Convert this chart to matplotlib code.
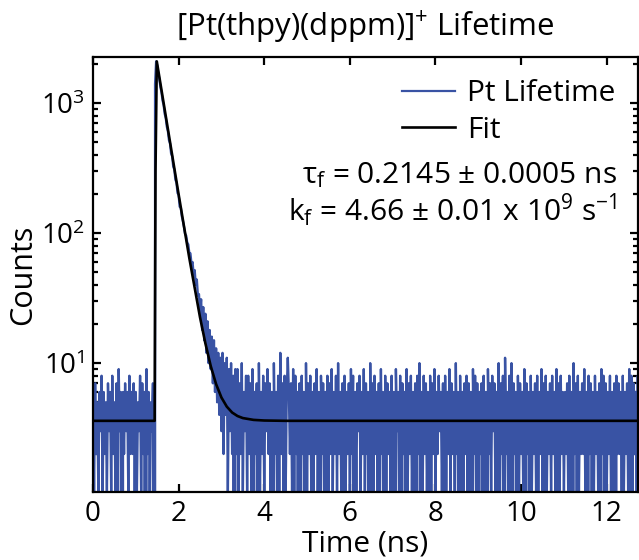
import matplotlib
matplotlib.use("Agg")
import matplotlib.pyplot as plt
import numpy as np

plt.rcParams.update({
    "font.family": ["Open Sans", "DejaVu Sans"],
    "mathtext.default": "regular",
    "font.size": 20,
    "axes.linewidth": 1.6,
})

# -----------------------------
# Data (TCSPC counts, 0.025 ns channels)
# -----------------------------
dt = 0.025
# background before the pulse, one hex digit per channel
pre_counts = ("6172516381" "6251736182" "5171936062" "7361826271"
              "6153817260" "92615370")
# rise + decay part of the trace
decay_counts = [1400, 2100, 1950, 1690, 1540, 1330, 1220, 1050, 970, 830, 770,
                660, 610, 520, 490, 410, 390, 325, 310, 258, 246,
                204, 197, 160, 158, 135, 124, 112, 99, 96, 85,
                82, 70, 70, 58, 60, 48, 52, 40, 44, 33,
                34, 24, 31, 18, 27, 15, 24, 12, 21, 10,
                18, 9, 16, 7, 15, 6, 13, 5, 12, 4,
                11, 3, 12, 2, 10, 4, 11, 1, 9, 3,
                10, 2, 8, 0, 9, 2]
# background after the decay, one hex digit per channel
tail_counts = ("9172a16381" "8271916270" "a162817392" "7160a26181"
               "c271816b62" "7191826071" "8260a17281" "6172916082"
               "7160817291" "6281a26170" "8162719280" "6173816291"
               "7260a17182" "6171926081" "7261816093" "6180726191"
               "7281617082" "a161827160" "8172916283" "6170816291"
               "7261a26081" "6172817160" "9281716270" "8160927183"
               "7161a17280" "b26181a172" "6081726191" "7260816271"
               "8162917081" "6271826190" "7182616271" "8160a27181"
               "6272916082" "7161826170" "9281716281" "6170827261"
               "8162719081" "7261826170")

# fitted curve (tau_f = 0.2145 ns)
fit_t = [0, 1.44, 1.46, 1.49, 2.0, 2.25, 2.5, 2.625, 2.75, 2.875, 3.0,
         3.125, 3.25, 3.375, 3.5, 3.75, 4.0, 4.5, 12.8]
fit_y = [3.6, 3.6, 300, 2100, 199, 64.3, 22.5, 14.2, 9.5, 6.9, 5.44,
         4.63, 4.17, 3.92, 3.78, 3.66, 3.62, 3.6, 3.6]

counts = ([int(c, 16) for c in pre_counts] + decay_counts
          + [int(c, 16) for c in tail_counts])
time = np.arange(len(counts)) * dt

blue = "#3953a4"

# -----------------------------
# Plot
# -----------------------------
fig = plt.figure(figsize=(6.39, 5.60), dpi=100)
ax = fig.add_axes([93/639, 1 - 492/560, 545/639, 435/560])

ax.plot(time, counts, color=blue, lw=1.7, label="Pt Lifetime", zorder=2)
ax.plot(fit_t, fit_y, color="black", lw=1.9, label="Fit", zorder=3)

ax.set_yscale("log")
ax.set_xlim(0, 12.73)
ax.set_ylim(1.02, 2270)
ax.set_xticks([0, 2, 4, 6, 8, 10, 12])

ax.tick_params(which="both", direction="in", top=True, right=True,
               width=1.6, labelsize=20, pad=6)
ax.tick_params(which="major", length=5.5)
ax.tick_params(which="minor", length=3.5)
ax.tick_params(axis="x", which="minor", bottom=False, top=False)

ax.set_xlabel("Time (ns)", fontsize=21.5, labelpad=1)
ax.set_ylabel("Counts", fontsize=22, labelpad=2)
ax.set_title("[Pt(thpy)(dppm)]$^{+}$ Lifetime", fontsize=22.5, pad=15)

leg = ax.legend(loc="upper right", frameon=False, fontsize=21.5,
                handlelength=1.8, handletextpad=0.4, labelspacing=0.25,
                borderaxespad=0.45, borderpad=0.3)
leg.get_lines()[0].set_linewidth(1.6)

ax.text(0.961, 0.729, r"τ$_f$ = 0.2145 ± 0.0005 ns", transform=ax.transAxes,
        ha="right", va="center", fontsize=21.5)
ax.text(0.961, 0.648, r"k$_f$ = 4.66 ± 0.01 x 10$^9$ s$^{-1}$",
        transform=ax.transAxes, ha="right", va="center", fontsize=21.5)

fig.savefig("out.png", dpi=100)
